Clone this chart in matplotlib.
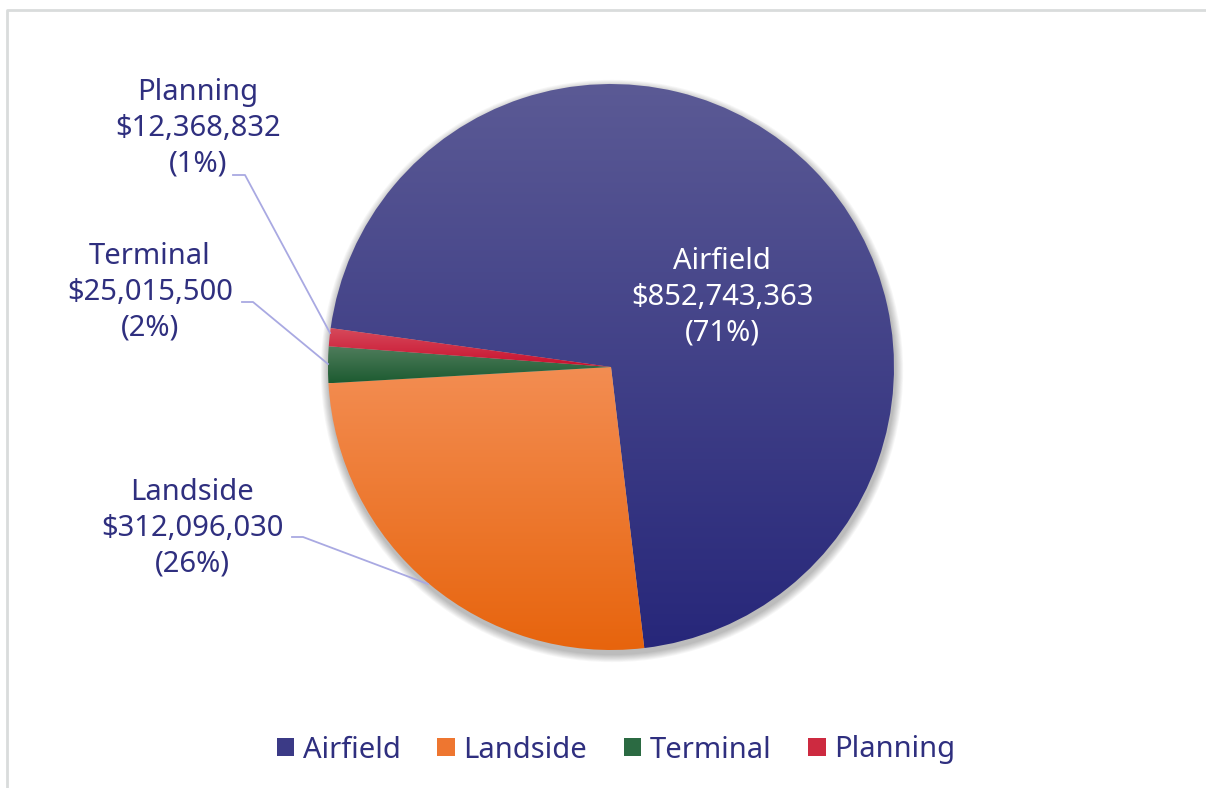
import numpy as np
import matplotlib
matplotlib.use("Agg")
import matplotlib.pyplot as plt
from matplotlib.patches import Patch, Circle
from matplotlib.colors import to_rgb

categories = ["Airfield", "Landside", "Terminal", "Planning"]
amounts = [852743363, 312096030, 25015500, 12368832]
pct_labels = ["71%", "26%", "2%", "1%"]

# top / bottom colours of each wedge gradient
grad_top = ["#5B5A95", "#F38D52", "#4F7D5C", "#D64A5B"]
grad_bot = ["#27277A", "#E7640D", "#1C5A30", "#C8102E"]
text_col = "#2F2F7F"
line_col = "#A9A9E2"

W, H = 1206, 788
plt.rcParams["font.family"] = ["Noto Sans", "DejaVu Sans"]
fs = 21

fig = plt.figure(figsize=(W / 100, H / 100), dpi=100)
ax = fig.add_axes([0, 0, 1, 1])

cx, cy, r = 611, H - 367, 283

# soft shadow
for i in range(9):
    ax.add_patch(Circle((cx + 1, cy - 4), r + 1 + i * 0.9, color="black",
                        alpha=0.03, lw=0, zorder=0))

wedges, _ = ax.pie(amounts, startangle=172.1, counterclock=False,
                   center=(cx, cy), radius=r, wedgeprops=dict(lw=0))

for w, c1, c2 in zip(wedges, grad_top, grad_bot):
    th = np.radians(np.linspace(w.theta1, w.theta2, 200))
    ys = np.concatenate([[cy], cy + r * np.sin(th)])
    y0, y1 = ys.min(), ys.max()
    t = np.linspace(0, 1, 256)[:, None]
    img = (1 - t) * np.array(to_rgb(c2)) + t * np.array(to_rgb(c1))
    img = img[:, None, :]
    w.set_facecolor("none")
    im = ax.imshow(img, extent=[cx - r, cx + r, y0, y1], origin="lower",
                   aspect="auto", zorder=1, interpolation="bilinear")
    im.set_clip_path(w)

def lbl(i):
    return "%s\n$%s\n(%s)" % (categories[i], f"{amounts[i]:,}", pct_labels[i])

ls = 1.3
ax.text(722, H - 297, lbl(0), color="white", fontsize=fs, ha="center",
        va="center", linespacing=ls, zorder=3)
ax.text(192, H - 528, lbl(1), color=text_col, fontsize=fs, ha="center",
        va="center", linespacing=ls, zorder=3)
ax.text(150, H - 292, lbl(2), color=text_col, fontsize=fs, ha="center",
        va="center", linespacing=ls, zorder=3)
ax.text(198, H - 128, lbl(3), color=text_col, fontsize=fs, ha="center",
        va="center", linespacing=ls, zorder=3)

# leader lines
leaders = [
    [(292, 537), (303, 537), (428, 584)],
    [(242, 302), (253, 302), (328, 364)],
    [(233, 175), (245, 175), (330, 333)],
]
for pts in leaders:
    xs = [p[0] for p in pts]
    ys = [H - p[1] for p in pts]
    ax.plot(xs, ys, color=line_col, lw=1.3, zorder=2)

# legend
handles = [Patch(facecolor=c, edgecolor="none") for c in
           ["#3B3A86", "#EE7630", "#2B6A42", "#CD2A40"]]
leg = ax.legend(handles, categories, loc="center", ncol=4,
                bbox_to_anchor=(616 / W, 1 - 750 / H),
                bbox_transform=fig.transFigure, frameon=False, fontsize=fs,
                handlelength=0.6, handleheight=0.6, handletextpad=0.3,
                columnspacing=1.25, borderaxespad=0)
for t in leg.get_texts():
    t.set_color(text_col)

# chart border (top and left visible)
ax.plot([7, 7, W + 5], [-5, H - 10, H - 10], color="#D9DCDC", lw=2, zorder=5,
        clip_on=False)

ax.set_xlim(0, W)
ax.set_ylim(0, H)
ax.set_aspect("auto")
ax.axis("off")

fig.savefig("out.png", dpi=100, facecolor="white")
